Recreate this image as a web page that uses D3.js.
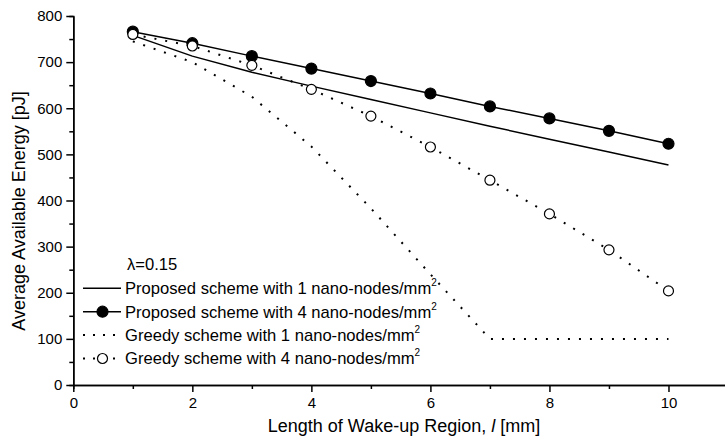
<!DOCTYPE html>
<html>
<head>
<meta charset="utf-8">
<script src="https://cdn.jsdelivr.net/npm/d3@7"></script>
<style>
    body { margin: 0; background: #fff; }
    svg { display: block; font-family: "Liberation Sans", Arial, sans-serif; }
    .axis path, .axis line { stroke: #000; stroke-width: 1.5; }
    .axis text { font-size: 15px; fill: #000; }
    .axis-label { font-size: 18px; fill: #000; }
    .legend text { font-size: 16.6px; fill: #000; }
</style>
</head>
<body>
<div id="chartDiv"></div>
<script>
// wake-up region length [mm]
const lengths = [1, 2, 3, 4, 5, 6, 7, 8, 9, 10];
// average available energy [pJ]
const proposed1 = [758, 713, 678, 648, 619, 590, 561, 533, 505, 477];
const proposed4 = [766, 741, 713, 686, 659, 632, 604, 578, 551, 523];
const greedy1 = [745, 700, 625, 517, 383, 240, 100, 100, 100, 100];
const greedy4 = [760, 735, 693, 641, 583, 516, 444, 371, 293, 204];

const xTicks = [0, 2, 4, 6, 8, 10];
const xMinorTicks = [1, 3, 5, 7, 9];
const yTicks = [0, 100, 200, 300, 400, 500, 600, 700, 800];
const yMinorTicks = [50, 150, 250, 350, 450, 550, 650, 750];

const seriesNames = [
    'Proposed scheme with 1 nano-nodes/mm',
    'Proposed scheme with 4 nano-nodes/mm',
    'Greedy scheme with 1 nano-nodes/mm',
    'Greedy scheme with 4 nano-nodes/mm'
];

class EnergyPlot {
    constructor() {
        this.width = 725;
        this.height = 445;
        this.x = d3.scaleLinear().domain([0, 11]).range([73.3, 728]);
        this.y = d3.scaleLinear().domain([0, 800]).range([385, 16]);
        this.series = [
            { name: seriesNames[0], values: proposed1, dash: null, marker: null },
            { name: seriesNames[1], values: proposed4, dash: null, marker: 'filled' },
            { name: seriesNames[2], values: greedy1, dash: '2,9', marker: null },
            { name: seriesNames[3], values: greedy4, dash: '2,9', marker: 'hollow' }
        ];
        this.drawPlot();
    }

    drawPlot() {
        this.svg = d3.select('#chartDiv')
            .append('svg')
            .attr('width', this.width)
            .attr('height', this.height);

        let g = this.svg.append('g');

        // axes
        g.append('g').classed('axis', true)
            .attr('transform', 'translate(0,' + this.y(0) + ')')
            .call(d3.axisBottom(this.x).tickValues(xMinorTicks).tickSize(4).tickFormat(''));
        g.append('g').classed('axis', true)
            .attr('transform', 'translate(0,' + this.y(0) + ')')
            .call(d3.axisBottom(this.x).tickValues(xTicks).tickSize(7).tickPadding(5).tickSizeOuter(0));
        g.append('g').classed('axis', true)
            .attr('transform', 'translate(' + this.x(0) + ',0)')
            .call(d3.axisLeft(this.y).tickValues(yMinorTicks).tickSize(4).tickFormat(''));
        g.append('g').classed('axis', true)
            .attr('transform', 'translate(' + this.x(0) + ',0)')
            .call(d3.axisLeft(this.y).tickValues(yTicks).tickSize(7).tickPadding(4).tickSizeOuter(0));

        // lines
        let line = d3.line()
            .x((d, i) => this.x(lengths[i]))
            .y(d => this.y(d));

        this.series.forEach(s => {
            g.append('path')
                .datum(s.values)
                .attr('d', line)
                .attr('fill', 'none')
                .attr('stroke', '#000')
                .attr('stroke-width', s.dash ? 2 : 1.5)
                .attr('stroke-dasharray', s.dash);
        });

        this.series.filter(s => s.marker).forEach(s => {
            g.selectAll(null)
                .data(s.values)
                .enter().append('circle')
                .attr('cx', (d, i) => this.x(lengths[i]))
                .attr('cy', d => this.y(d))
                .attr('r', s.marker === 'filled' ? 5.5 : 5)
                .attr('fill', s.marker === 'filled' ? '#000' : '#fff')
                .attr('stroke', '#000')
                .attr('stroke-width', 1.2);
        });

        // legend
        let legend = g.append('g').classed('legend', true);
        legend.append('text')
            .attr('x', 127)
            .attr('y', 270)
            .text('\u03bb=0.15');

        this.series.forEach((s, i) => {
            let ly = 288.3 + i * 23.4;
            legend.append('line')
                .attr('x1', 83).attr('x2', 121)
                .attr('y1', ly).attr('y2', ly)
                .attr('stroke', '#000')
                .attr('stroke-width', s.dash ? 2 : 1.5)
                .attr('stroke-dasharray', s.dash ? '2,8' : null);
            if (s.marker) {
                legend.append('circle')
                    .attr('cx', 102.5).attr('cy', ly)
                    .attr('r', s.marker === 'filled' ? 5.5 : 5)
                    .attr('fill', s.marker === 'filled' ? '#000' : '#fff')
                    .attr('stroke', '#000')
                    .attr('stroke-width', 1.2);
            }
            let t = legend.append('text')
                .attr('x', 125)
                .attr('y', ly + 5.8);
            t.append('tspan').text(s.name);
            t.append('tspan')
                .attr('dy', -8)
                .attr('font-size', '10px')
                .text('2');
        });

        // axis titles
        let xl = g.append('text')
            .classed('axis-label', true)
            .attr('text-anchor', 'middle')
            .attr('transform', 'translate(404, 432)');
        xl.append('tspan').text('Length of Wake-up Region, ');
        xl.append('tspan').attr('font-style', 'italic').text('l');
        xl.append('tspan').text(' [mm]');

        g.append('text')
            .classed('axis-label', true)
            .attr('text-anchor', 'middle')
            .attr('transform', 'translate(25, 211) rotate(-90)')
            .text('Average Available Energy [pJ]');
    }
}

new EnergyPlot();
</script>
</body>
</html>
